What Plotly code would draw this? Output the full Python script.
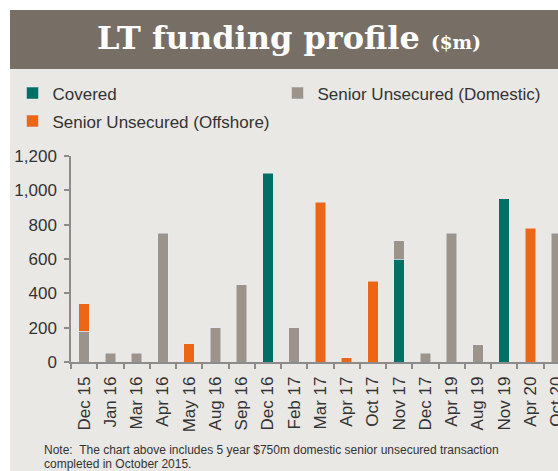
import plotly.graph_objects as go

categories = ["Dec 15", "Jan 16", "Mar 16", "Apr 16", "May 16", "Aug 16", "Sep 16",
              "Dec 16", "Feb 17", "Mar 17", "Apr 17", "Oct 17", "Nov 17", "Dec 17",
              "Apr 19", "Aug 19", "Nov 19", "Apr 20", "Oct 20"]
covered = [None, None, None, None, None, None, None, 1100, None, None, None, None,
           600, None, None, None, 950, None, None]
domestic = [180, 50, 50, 750, None, 200, 450, None, 200, None, None, None,
            105, 50, 750, 100, None, None, 750]
offshore = [160, None, None, None, 105, None, None, None, None, 930, 25, 470,
            None, None, None, None, None, 780, None]
y_ticks = [0, 200, 400, 600, 800, 1000, 1200]

W, H = 558, 471
ML, MR, MT, MB = 71, 0, 156, 109
PW, PH = W - ML - MR, H - MT - MB


def px(x):  # pixel -> paper x
    return (x - ML) / PW


def py(y):  # pixel -> paper y
    return (H - MB - y) / PH


def cx(x):  # pixel -> container x
    return x / W


def cy(y):  # pixel -> container y
    return 1 - y / H


TEAL = "#007065"
GREY = "#9c948a"
ORANGE = "#ec6615"
BG = "#eae8e4"
BAR = "#776f65"
AXIS = "#8c8c8c"
TXT = "#333333"
FONT = "Liberation Sans, Arial, sans-serif"

fig = go.Figure()
fig.add_trace(go.Bar(x=categories, y=covered, name="Covered", marker_color=TEAL,
                     legend="legend"))
fig.add_trace(go.Bar(x=categories, y=domestic, name="Senior Unsecured (Domestic)",
                     marker_color=GREY, legend="legend3"))
fig.add_trace(go.Bar(x=categories, y=offshore, name="Senior Unsecured (Offshore)",
                     marker_color=ORANGE, legend="legend2"))

leg_common = dict(
    orientation="h", xref="container", yref="container", xanchor="left",
    yanchor="top", font=dict(family=FONT, size=17, color=TXT),
    bgcolor="rgba(0,0,0,0)",
)

fig.update_layout(
    width=W, height=H,
    margin=dict(l=ML, r=MR, t=MT, b=MB, autoexpand=False),
    paper_bgcolor="white",
    plot_bgcolor="rgba(0,0,0,0)",
    barmode="stack",
    bargap=0.6,
    font=dict(family=FONT, size=17, color=TXT),
    title=dict(
        text="LT funding profile <span style='font-size:18.5px'>($m)</span>",
        font=dict(family="DejaVu Serif", size=32, color="white", weight="bold"),
        xref="container", yref="container",
        x=cx(289), xanchor="center",
        y=cy(37.5), yanchor="middle",
    ),
    showlegend=True,
    legend=dict(leg_common, x=cx(12.5), y=cy(75.5)),
    legend3=dict(leg_common, x=cx(277.5), y=cy(75.5)),
    legend2=dict(leg_common, x=cx(12.5), y=cy(103.5)),
    xaxis=dict(
        type="category", categoryorder="array", categoryarray=categories,
        range=[-0.5, 18.05], tickangle=-90, tickson="boundaries",
        ticks="outside", ticklen=5, tickcolor=AXIS, tickwidth=1.5,
        showline=True, linecolor=AXIS, linewidth=1.5,
        showgrid=False, zeroline=False, automargin=False,
        ticklabelstandoff=6,
        tickfont=dict(family=FONT, size=17, color=TXT),
    ),
    yaxis=dict(
        range=[0, 1200], tickvals=y_ticks, tickformat=",",
        ticks="outside", ticklen=5, tickcolor=AXIS, tickwidth=1.5,
        showline=True, linecolor=AXIS, linewidth=1.5,
        showgrid=False, zeroline=False, automargin=False,
        ticklabelstandoff=4,
        tickfont=dict(family=FONT, size=17, color=TXT),
    ),
    shapes=[
        dict(type="rect", xref="paper", yref="paper", layer="below",
             x0=px(10), x1=px(570), y0=py(480), y1=py(10),
             fillcolor=BG, line_width=0),
        dict(type="rect", xref="paper", yref="paper", layer="below",
             x0=px(10), x1=px(570), y0=py(69), y1=py(10),
             fillcolor=BAR, line_width=0),
    ],
    annotations=[
        dict(text="Note:  The chart above includes 5 year $750m domestic senior unsecured transaction",
             xref="paper", yref="paper", x=px(42), y=py(450), xanchor="left",
             yanchor="middle", showarrow=False,
             font=dict(family=FONT, size=12, color=TXT)),
        dict(text="completed in October 2015.",
             xref="paper", yref="paper", x=px(42), y=py(463.5), xanchor="left",
             yanchor="middle", showarrow=False,
             font=dict(family=FONT, size=12, color=TXT)),
    ],
)

# Remove the default page margin so the 558x471 figure fills the window exactly.
fig.write_html("out.html",
               config={"displayModeBar": False},
               post_script="document.body.style.margin='0';document.body.style.overflow='hidden';")
